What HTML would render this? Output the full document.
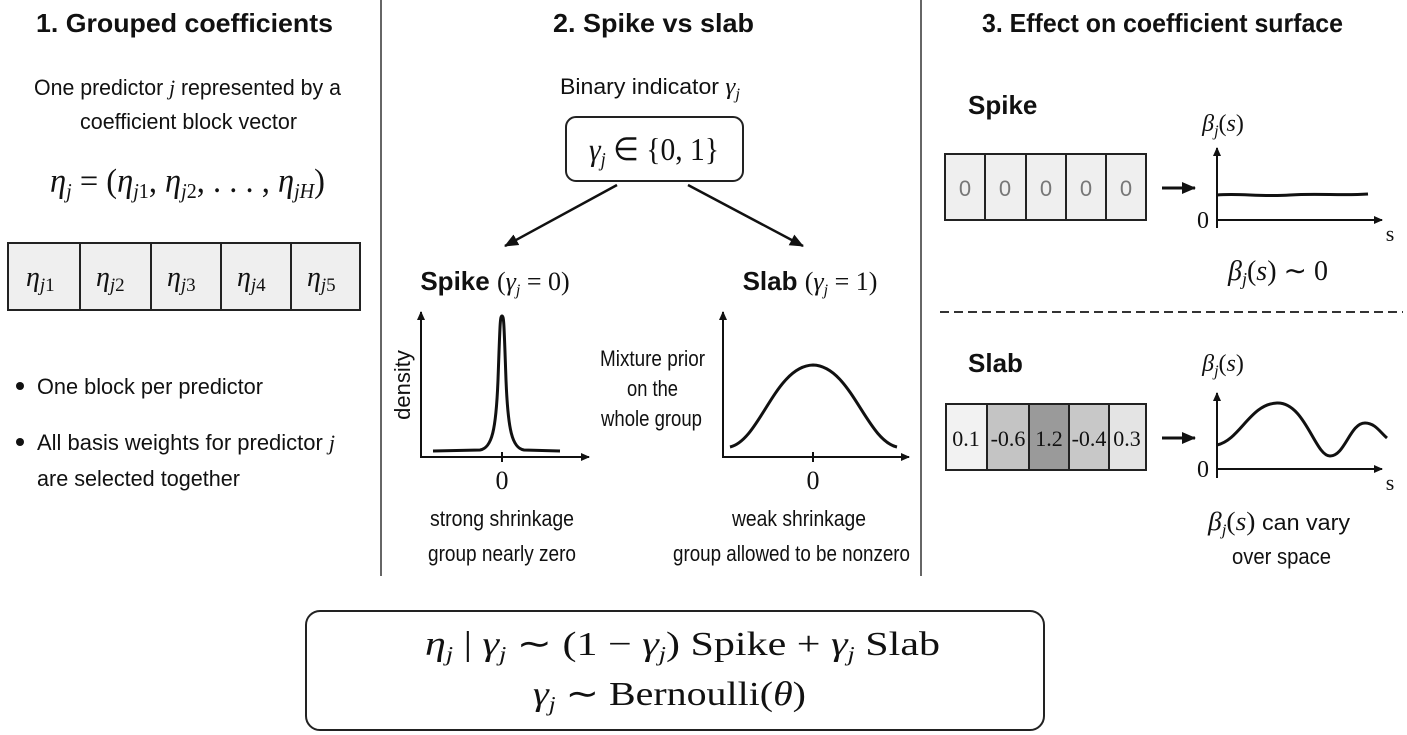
<!DOCTYPE html>
<html><head><meta charset="utf-8"><style>
html,body{margin:0;padding:0;background:#fff;}
svg{display:block;}
.t{font-family:"Liberation Sans",sans-serif;font-weight:bold;font-size:26px;fill:#111;}
.s{font-family:"Liberation Sans",sans-serif;font-size:22px;fill:#111;}
.m{font-family:"Liberation Serif",serif;fill:#111;}
.i{font-style:italic;}
</style></head><body>
<svg width="1407" height="735" viewBox="0 0 1407 735" xmlns="http://www.w3.org/2000/svg">
<defs>
<marker id="ah" markerWidth="10" markerHeight="10" refX="8" refY="5" orient="auto" markerUnits="userSpaceOnUse"><path d="M0,1 L9,5 L0,9 Z" fill="#111"/></marker>
<marker id="ab" markerWidth="16" markerHeight="14" refX="13" refY="7" orient="auto" markerUnits="userSpaceOnUse"><path d="M0,1 L14,7 L0,13 Z" fill="#111"/></marker>
</defs>
<rect width="1407" height="735" fill="#fff"/>
<line x1="381" y1="0" x2="381" y2="576" stroke="#333" stroke-width="1.5"/>
<line x1="921" y1="0" x2="921" y2="576" stroke="#333" stroke-width="1.5"/>

<text class="t" x="36" y="32" textLength="297" lengthAdjust="spacingAndGlyphs">1. Grouped coefficients</text>
<text class="t" x="553" y="32" textLength="201" lengthAdjust="spacingAndGlyphs">2. Spike vs slab</text>
<text class="t" x="982" y="32" textLength="361" lengthAdjust="spacingAndGlyphs">3. Effect on coefficient surface</text>

<text class="s" x="34" y="95" textLength="307" lengthAdjust="spacingAndGlyphs">One predictor <tspan class="m i">j</tspan> represented by a</text>
<text class="s" x="80" y="129" textLength="217" lengthAdjust="spacingAndGlyphs">coefficient block vector</text>
<text class="m" x="50" y="192" font-size="34" textLength="275" lengthAdjust="spacingAndGlyphs"><tspan class="i">η</tspan><tspan class="i" font-size="21" dy="6">j</tspan><tspan dy="-6"> = (</tspan><tspan class="i">η</tspan><tspan class="i" font-size="21" dy="6">j</tspan><tspan font-size="21">1</tspan><tspan dy="-6">, </tspan><tspan class="i">η</tspan><tspan class="i" font-size="21" dy="6">j</tspan><tspan font-size="21">2</tspan><tspan dy="-6">, . . . , </tspan><tspan class="i">η</tspan><tspan class="i" font-size="21" dy="6">jH</tspan><tspan dy="-6">)</tspan></text>
<g stroke="#222" stroke-width="2" fill="#efefef">
<rect x="8" y="243" width="352" height="67"/>
<line x1="80" y1="243" x2="80" y2="310"/><line x1="151" y1="243" x2="151" y2="310"/><line x1="221" y1="243" x2="221" y2="310"/><line x1="291" y1="243" x2="291" y2="310"/>
</g>
<g class="m" font-size="28">
<text x="26" y="286"><tspan class="i">η</tspan><tspan class="i" font-size="19" dy="5">j</tspan><tspan font-size="19">1</tspan></text>
<text x="96" y="286"><tspan class="i">η</tspan><tspan class="i" font-size="19" dy="5">j</tspan><tspan font-size="19">2</tspan></text>
<text x="167" y="286"><tspan class="i">η</tspan><tspan class="i" font-size="19" dy="5">j</tspan><tspan font-size="19">3</tspan></text>
<text x="237" y="286"><tspan class="i">η</tspan><tspan class="i" font-size="19" dy="5">j</tspan><tspan font-size="19">4</tspan></text>
<text x="307" y="286"><tspan class="i">η</tspan><tspan class="i" font-size="19" dy="5">j</tspan><tspan font-size="19">5</tspan></text>
</g>
<circle cx="20" cy="386" r="4" fill="#111"/>
<text class="s" x="37" y="394" textLength="226" lengthAdjust="spacingAndGlyphs">One block per predictor</text>
<circle cx="20" cy="442" r="4" fill="#111"/>
<text class="s" x="37" y="450" textLength="298" lengthAdjust="spacingAndGlyphs">All basis weights for predictor <tspan class="m i">j</tspan></text>
<text class="s" x="37" y="486" textLength="203" lengthAdjust="spacingAndGlyphs">are selected together</text>

<text class="s" x="560" y="94" textLength="180" lengthAdjust="spacingAndGlyphs">Binary indicator <tspan class="m i" font-size="24">γ</tspan><tspan class="m i" font-size="16" dy="5">j</tspan></text>
<rect x="566" y="117" width="177" height="64" rx="10" fill="#fff" stroke="#222" stroke-width="2"/>
<text class="m" x="654" y="160" font-size="32" text-anchor="middle" textLength="130" lengthAdjust="spacingAndGlyphs"><tspan class="i">γ</tspan><tspan class="i" font-size="20" dy="6">j</tspan><tspan dy="-6"> ∈ {0, 1}</tspan></text>
<line x1="617" y1="185" x2="505" y2="246" stroke="#111" stroke-width="2.5" marker-end="url(#ab)"/>
<line x1="688" y1="185" x2="803" y2="246" stroke="#111" stroke-width="2.5" marker-end="url(#ab)"/>

<text x="495" y="290" text-anchor="middle"><tspan class="t" font-size="21">Spike </tspan><tspan class="m" font-size="26">(</tspan><tspan class="m i" font-size="26">γ</tspan><tspan class="m i" font-size="16" dy="5">j</tspan><tspan class="m" font-size="26" dy="-5"> = 0)</tspan></text>
<text x="810" y="290" text-anchor="middle"><tspan class="t" font-size="21">Slab </tspan><tspan class="m" font-size="26">(</tspan><tspan class="m i" font-size="26">γ</tspan><tspan class="m i" font-size="16" dy="5">j</tspan><tspan class="m" font-size="26" dy="-5"> = 1)</tspan></text>

<g stroke="#111" stroke-width="2" fill="none">
<line x1="421" y1="458" x2="421" y2="312" marker-end="url(#ah)"/>
<line x1="420" y1="457" x2="589" y2="457" marker-end="url(#ah)"/>
<line x1="502" y1="452" x2="502" y2="462"/>
<path d="M433,451 L480,450 C492,448 496,430 498,380 C500,325 500,316 502,316 C504,316 504,325 506,380 C508,430 512,448 524,450 L560,451" stroke-width="3"/>
<line x1="723" y1="458" x2="723" y2="312" marker-end="url(#ah)"/>
<line x1="722" y1="457" x2="909" y2="457" marker-end="url(#ah)"/>
<line x1="813" y1="452" x2="813" y2="462"/>
<path d="M730,447 C760,440 775,366 813,365 C851,366 866,440 897,447" stroke-width="3"/>
</g>
<text class="s" x="413" y="385" font-size="18" text-anchor="middle" transform="rotate(-90 413 385)" dy="-3">density</text>
<text class="m" x="502" y="489" font-size="26" text-anchor="middle">0</text>
<text class="m" x="813" y="489" font-size="26" text-anchor="middle">0</text>
<text class="s" x="600" y="366" font-size="19" textLength="105" lengthAdjust="spacingAndGlyphs">Mixture prior</text>
<text class="s" x="627" y="396" font-size="19" textLength="51" lengthAdjust="spacingAndGlyphs">on the</text>
<text class="s" x="601" y="426" font-size="19" textLength="101" lengthAdjust="spacingAndGlyphs">whole group</text>
<text class="s" x="430" y="526" textLength="144" lengthAdjust="spacingAndGlyphs">strong shrinkage</text>
<text class="s" x="428" y="561" textLength="148" lengthAdjust="spacingAndGlyphs">group nearly zero</text>
<text class="s" x="732" y="526" textLength="134" lengthAdjust="spacingAndGlyphs">weak shrinkage</text>
<text class="s" x="673" y="561" textLength="237" lengthAdjust="spacingAndGlyphs">group allowed to be nonzero</text>

<text class="t" x="968" y="114" font-size="24">Spike</text>
<g stroke="#222" stroke-width="2" fill="#efefef">
<rect x="945" y="154" width="201" height="66"/>
<line x1="985" y1="154" x2="985" y2="220"/><line x1="1026" y1="154" x2="1026" y2="220"/><line x1="1066" y1="154" x2="1066" y2="220"/><line x1="1106" y1="154" x2="1106" y2="220"/>
</g>
<g class="s" font-size="24" text-anchor="middle">
<text x="965" y="196" fill="#777">0</text><text x="1005" y="196" fill="#777">0</text><text x="1046" y="196" fill="#777">0</text><text x="1086" y="196" fill="#777">0</text><text x="1126" y="196" fill="#777">0</text>
</g>
<line x1="1162" y1="188" x2="1195" y2="188" stroke="#111" stroke-width="3" marker-end="url(#ab)"/>
<g stroke="#111" stroke-width="2" fill="none">
<line x1="1217" y1="228" x2="1217" y2="148" marker-end="url(#ah)"/>
<line x1="1217" y1="220" x2="1382" y2="220" marker-end="url(#ah)"/>
<path d="M1217,195 C1240,193 1260,197 1290,195 C1320,193 1340,196 1368,194" stroke-width="3"/>
<line x1="1217" y1="478" x2="1217" y2="393" marker-end="url(#ah)"/>
<line x1="1217" y1="469" x2="1382" y2="469" marker-end="url(#ah)"/>
<path d="M1217,445 C1240,440 1250,404 1277,403 C1305,402 1315,456 1330,456 C1345,456 1350,423 1365,423 C1375,423 1380,432 1387,438" stroke-width="3"/>
</g>
<text class="m" x="1203" y="228" font-size="24" text-anchor="middle">0</text>
<text class="m" x="1390" y="241" font-size="22" text-anchor="middle">s</text>
<text class="m" x="1203" y="477" font-size="24" text-anchor="middle">0</text>
<text class="m" x="1390" y="490" font-size="22" text-anchor="middle">s</text>
<text class="m" x="1223" y="131" font-size="24" text-anchor="middle"><tspan class="i">β</tspan><tspan class="i" font-size="16" dy="5">j</tspan><tspan dy="-5">(</tspan><tspan class="i">s</tspan>)</text>
<text class="m" x="1223" y="371" font-size="24" text-anchor="middle"><tspan class="i">β</tspan><tspan class="i" font-size="16" dy="5">j</tspan><tspan dy="-5">(</tspan><tspan class="i">s</tspan>)</text>
<text class="m" x="1278" y="280" font-size="28" text-anchor="middle"><tspan class="i">β</tspan><tspan class="i" font-size="18" dy="5">j</tspan><tspan dy="-5">(</tspan><tspan class="i">s</tspan>) ∼ 0</text>
<line x1="940" y1="312" x2="1403" y2="312" stroke="#333" stroke-width="2" stroke-dasharray="9,5"/>
<text class="t" x="968" y="372" font-size="24">Slab</text>
<g stroke="#222" stroke-width="2">
<rect x="946" y="404" width="41" height="66" fill="#f2f2f2"/>
<rect x="987" y="404" width="42" height="66" fill="#c4c4c4"/>
<rect x="1029" y="404" width="40" height="66" fill="#9a9a9a"/>
<rect x="1069" y="404" width="40" height="66" fill="#c8c8c8"/>
<rect x="1109" y="404" width="37" height="66" fill="#e4e4e4"/>
</g>
<g class="m" font-size="22" text-anchor="middle">
<text x="966" y="446">0.1</text><text x="1008" y="446">-0.6</text><text x="1049" y="446">1.2</text><text x="1089" y="446">-0.4</text><text x="1127" y="446">0.3</text>
</g>
<line x1="1162" y1="438" x2="1195" y2="438" stroke="#111" stroke-width="3" marker-end="url(#ab)"/>
<text x="1208" y="530" class="s" textLength="142" lengthAdjust="spacingAndGlyphs"><tspan class="m i" font-size="26">β</tspan><tspan class="m i" font-size="16" dy="5">j</tspan><tspan class="m" font-size="26" dy="-5">(</tspan><tspan class="m i" font-size="26">s</tspan><tspan class="m" font-size="26">)</tspan> can vary</text>
<text class="s" x="1232" y="564" textLength="99" lengthAdjust="spacingAndGlyphs">over space</text>

<rect x="306" y="611" width="738" height="119" rx="14" fill="#fff" stroke="#222" stroke-width="2"/>
<text class="m" x="425" y="655" font-size="34" textLength="515" lengthAdjust="spacingAndGlyphs"><tspan class="i">η</tspan><tspan class="i" font-size="21" dy="6">j</tspan><tspan dy="-6"> | </tspan><tspan class="i">γ</tspan><tspan class="i" font-size="21" dy="6">j</tspan><tspan dy="-6">  ∼  (1 − </tspan><tspan class="i">γ</tspan><tspan class="i" font-size="21" dy="6">j</tspan><tspan dy="-6">) Spike  +  </tspan><tspan class="i">γ</tspan><tspan class="i" font-size="21" dy="6">j</tspan><tspan dy="-6"> Slab</tspan></text>
<text class="m" x="533" y="705" font-size="34" textLength="273" lengthAdjust="spacingAndGlyphs"><tspan class="i">γ</tspan><tspan class="i" font-size="21" dy="6">j</tspan><tspan dy="-6">  ∼  Bernoulli(</tspan><tspan class="i">θ</tspan>)</text>
</svg>
</body></html>
